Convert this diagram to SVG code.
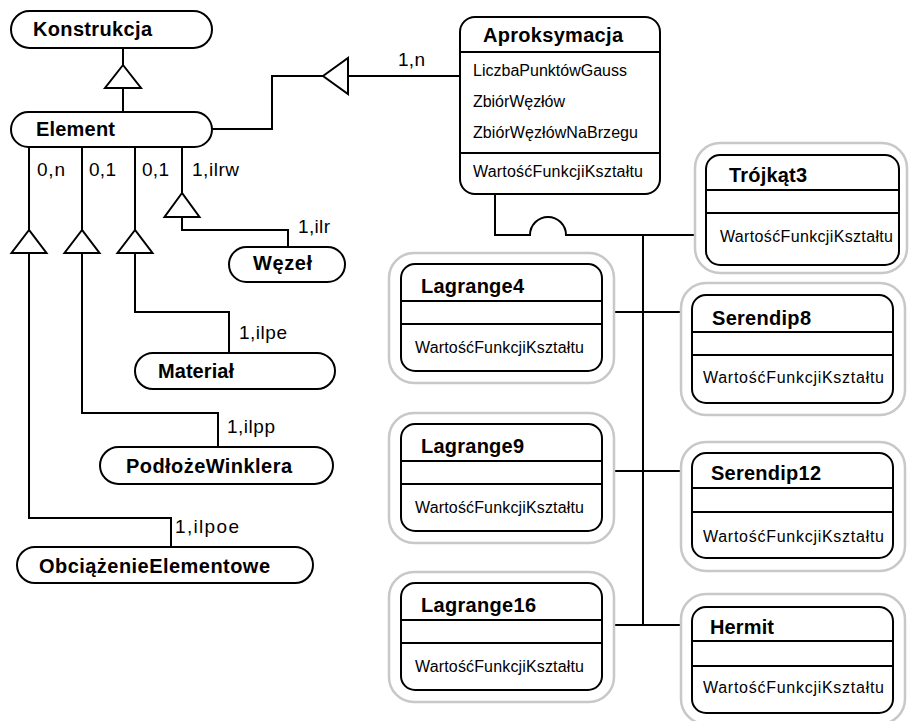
<svg xmlns="http://www.w3.org/2000/svg" width="909" height="721" viewBox="0 0 909 721">
  <style>
    .ln { fill: none; stroke: #000; stroke-width: 2; }
    .box { fill: #fff; stroke: #000; stroke-width: 2; }
    .frame { fill: #fff; stroke: #c8c8c8; stroke-width: 2.5; }
    .tri { fill: #fff; stroke: #000; stroke-width: 2; }
    .t { font-family: "Liberation Sans", Arial, sans-serif; font-weight: bold; font-size: 20px; fill: #000; }
    .a { font-family: "Liberation Sans", Arial, sans-serif; font-size: 16px; fill: #000; }
    .m { font-family: "Liberation Sans", Arial, sans-serif; font-size: 19px; fill: #000; }
  </style>
  <rect width="909" height="721" fill="#fff"/>

  <!-- connectors -->
  <g id="connectors">
    <path class="ln" d="M123,48V65M123,88V112"/>
    <path class="ln" d="M212,129H272V76H323M348,76H460"/>
    <polygon class="tri" points="123,65 105,88 141,88"/>
    <polygon class="tri" points="323,76 348,58 348,94"/>
    <path class="ln" d="M29,147V230M29,253V518H171V547"/>
    <path class="ln" d="M82,147V230M82,253V413H218V447"/>
    <path class="ln" d="M135,147V230M135,253V312H229V353"/>
    <path class="ln" d="M182,147V193M182,217V230H288V247"/>
    <polygon class="tri" points="29,230 11.5,253 46.5,253"/>
    <polygon class="tri" points="82,230 64.5,253 99.5,253"/>
    <polygon class="tri" points="135,230 117.5,253 152.5,253"/>
    <polygon class="tri" points="182,193 164.5,217 199.5,217"/>
    <path class="ln" d="M495,194V235H530A18,18 0 0 1 566,235H706"/>
    <path class="ln" d="M643,235V625"/>
    <path class="ln" d="M602,312H692M602,471H692M602,625H692"/>
    <text class="m" x="398" y="66" textLength="27">1,n</text>
    <text class="m" x="37" y="176" textLength="28">0,n</text>
    <text class="m" x="89" y="176" textLength="27">0,1</text>
    <text class="m" x="142" y="176" textLength="27">0,1</text>
    <text class="m" x="192" y="176" textLength="47">1,ilrw</text>
    <text class="m" x="298" y="233" textLength="32">1,ilr</text>
    <text class="m" x="239" y="339" textLength="48">1,ilpe</text>
    <text class="m" x="227" y="433" textLength="48">1,ilpp</text>
    <text class="m" x="175" y="533" textLength="64">1,ilpoe</text>
  </g>

  <!-- left-hand classes -->
  <g id="konstrukcja">
    <rect class="box" x="11" y="11" width="201" height="37" rx="18.5"/>
    <text class="t" x="33" y="36" textLength="119">Konstrukcja</text>
  </g>
  <g id="element">
    <rect class="box" x="11" y="112" width="201" height="35" rx="17.5"/>
    <text class="t" x="36" y="136" textLength="79">Element</text>
  </g>
  <g id="wezel">
    <rect class="box" x="229" y="247" width="116" height="35" rx="17.5"/>
    <text class="t" x="253" y="270" textLength="59">Węzeł</text>
  </g>
  <g id="material">
    <rect class="box" x="135" y="353" width="200" height="36" rx="18"/>
    <text class="t" x="158" y="378" textLength="76">Materiał</text>
  </g>
  <g id="podloze">
    <rect class="box" x="100" y="447" width="233" height="37" rx="18.5"/>
    <text class="t" x="126" y="473" textLength="166">PodłożeWinklera</text>
  </g>
  <g id="obciazenie">
    <rect class="box" x="17" y="547" width="296" height="36" rx="18"/>
    <text class="t" x="39" y="573" textLength="231">ObciążenieElementowe</text>
  </g>

  <!-- approximation base class -->
  <g id="aproksymacja">
    <rect class="box" x="460" y="17" width="200" height="177" rx="15"/>
    <path class="ln" d="M460,52H660M460,153H660"/>
    <text class="t" x="483" y="42" textLength="140">Aproksymacja</text>
    <text class="a" x="473" y="76" textLength="154">LiczbaPunktówGauss</text>
    <text class="a" x="473" y="107" textLength="92">ZbiórWęzłów</text>
    <text class="a" x="473" y="138" textLength="165">ZbiórWęzłówNaBrzegu</text>
    <text class="a" x="473" y="177" textLength="170">WartośćFunkcjiKształtu</text>
  </g>

  <!-- shape-function subclasses -->
  <g id="trojkat3" transform="translate(706,155)">
    <rect class="frame" x="-11" y="-12" width="212" height="130" rx="25"/>
    <rect class="box" x="0" y="0" width="193" height="110" rx="14"/>
    <path class="ln" d="M0,35H193M0,58H193"/>
    <text class="t" x="23" y="27" textLength="78">Trójkąt3</text>
    <text class="a" x="14" y="87" textLength="173">WartośćFunkcjiKształtu</text>
  </g>
  <g id="lagrange4" transform="translate(401,264)">
    <rect class="frame" x="-12" y="-11" width="225" height="130" rx="25"/>
    <rect class="box" x="0" y="0" width="201" height="107" rx="14"/>
    <path class="ln" d="M0,37H201M0,60H201"/>
    <text class="t" x="20" y="29" textLength="103">Lagrange4</text>
    <text class="a" x="14" y="89" textLength="169">WartośćFunkcjiKształtu</text>
  </g>
  <g id="serendip8" transform="translate(692,295)">
    <rect class="frame" x="-11" y="-12" width="224" height="132" rx="25"/>
    <rect class="box" x="0" y="0" width="201" height="108" rx="14"/>
    <path class="ln" d="M0,37H201M0,60H201"/>
    <text class="t" x="20" y="30" textLength="99">Serendip8</text>
    <text class="a" x="11" y="88" textLength="181">WartośćFunkcjiKształtu</text>
  </g>
  <g id="lagrange9" transform="translate(401,424)">
    <rect class="frame" x="-12" y="-11" width="225" height="130" rx="25"/>
    <rect class="box" x="0" y="0" width="201" height="107" rx="14"/>
    <path class="ln" d="M0,37H201M0,60H201"/>
    <text class="t" x="20" y="29" textLength="103">Lagrange9</text>
    <text class="a" x="14" y="89" textLength="169">WartośćFunkcjiKształtu</text>
  </g>
  <g id="serendip12" transform="translate(692,453)">
    <rect class="frame" x="-11" y="-11" width="224" height="129" rx="25"/>
    <rect class="box" x="0" y="0" width="201" height="105" rx="14"/>
    <path class="ln" d="M0,35H201M0,59H201"/>
    <text class="t" x="19" y="27" textLength="110">Serendip12</text>
    <text class="a" x="11" y="89" textLength="181">WartośćFunkcjiKształtu</text>
  </g>
  <g id="lagrange16" transform="translate(401,583)">
    <rect class="frame" x="-12" y="-11" width="225" height="130" rx="25"/>
    <rect class="box" x="0" y="0" width="201" height="107" rx="14"/>
    <path class="ln" d="M0,37H201M0,60H201"/>
    <text class="t" x="20" y="29" textLength="115">Lagrange16</text>
    <text class="a" x="14" y="89" textLength="169">WartośćFunkcjiKształtu</text>
  </g>
  <g id="hermit" transform="translate(692,607)">
    <rect class="frame" x="-11" y="-13" width="224" height="130" rx="25"/>
    <rect class="box" x="0" y="0" width="201" height="106" rx="14"/>
    <path class="ln" d="M0,34H201M0,59H201"/>
    <text class="t" x="18" y="27" textLength="64">Hermit</text>
    <text class="a" x="11" y="86" textLength="181">WartośćFunkcjiKształtu</text>
  </g>
</svg>
